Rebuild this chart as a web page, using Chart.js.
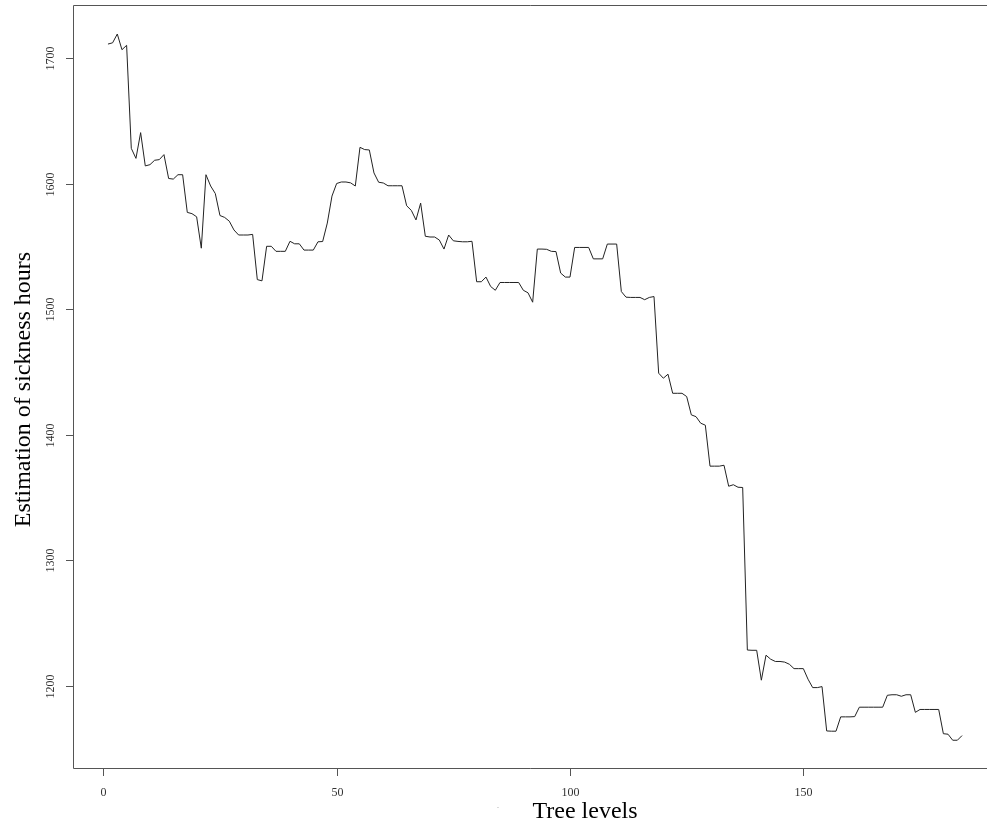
<!DOCTYPE html>
<html>
<head>
<meta charset="utf-8">
<script src="https://cdn.jsdelivr.net/npm/chart.js@4/dist/chart.umd.min.js"></script>
<style>
  html, body { margin: 0; padding: 0; background: #fff; }
  #wrap { width: 987px; height: 829px; }
</style>
</head>
<body>
<div id="wrap"><canvas id="chart" width="987" height="829"></canvas></div>
<script>
// tree level index (x) and estimated sickness hours (y)
const treeLevels = [
  1, 2, 3, 4, 5, 6, 7, 8, 9, 10, 11, 12, 13, 14, 15, 16, 17, 18, 19, 20,
  21, 22, 23, 24, 25, 26, 27, 28, 29, 30, 31, 32, 33, 34, 35, 36, 37, 38, 39, 40,
  41, 42, 43, 44, 45, 46, 47, 48, 49, 50, 51, 52, 53, 54, 55, 56, 57, 58, 59, 60,
  61, 62, 63, 64, 65, 66, 67, 68, 69, 70, 71, 72, 73, 74, 75, 76, 77, 78, 79, 80,
  81, 82, 83, 84, 85, 86, 87, 88, 89, 90, 91, 92, 93, 94, 95, 96, 97, 98, 99, 100,
  101, 102, 103, 104, 105, 106, 107, 108, 109, 110, 111, 112, 113, 114, 115, 116, 117, 118, 119, 120,
  121, 122, 123, 124, 125, 126, 127, 128, 129, 130, 131, 132, 133, 134, 135, 136, 137, 138, 139, 140,
  141, 142, 143, 144, 145, 146, 147, 148, 149, 150, 151, 152, 153, 154, 155, 156, 157, 158, 159, 160,
  161, 162, 163, 164, 165, 166, 167, 168, 169, 170, 171, 172, 173, 174, 175, 176, 177, 178, 179, 180,
  181, 182, 183, 184
];
const sicknessHours = [
  1711, 1712, 1719, 1706.5, 1710, 1628, 1620, 1640.5, 1614, 1615,
  1618.5, 1619, 1623, 1604, 1603.5, 1607, 1607, 1577, 1576, 1573.5,
  1548.5, 1607, 1598, 1592, 1574.5, 1573, 1570, 1563, 1559, 1559,
  1559, 1559.5, 1523.5, 1522.5, 1550, 1550, 1546, 1546, 1546, 1554,
  1552, 1552, 1547, 1547, 1547, 1553.6, 1553.8, 1568.5, 1590, 1600,
  1601.2, 1601.2, 1600.5, 1598, 1628.8, 1627, 1626.7, 1608.4, 1601, 1600.4,
  1598.2, 1598.2, 1598.2, 1598.2, 1582.3, 1578.6, 1571, 1584.4, 1558, 1557.4,
  1557.4, 1555, 1547.8, 1559, 1554.4, 1553.9, 1553.6, 1553.6, 1554, 1521.8,
  1521.8, 1525.5, 1518, 1515, 1521.2, 1521.2, 1521.2, 1521.2, 1521.2, 1515,
  1513, 1505.5, 1547.8, 1547.8, 1547.6, 1546, 1545.8, 1528.7, 1525.5, 1525.5,
  1549.1, 1549.1, 1549.1, 1549.1, 1540, 1540, 1540, 1551.8, 1551.8, 1551.8,
  1514, 1509.5, 1509.3, 1509.3, 1509.3, 1507.5, 1509.3, 1510, 1449, 1445,
  1448.2, 1433, 1433, 1433, 1430.4, 1415.8, 1414.4, 1409.2, 1407.6, 1375,
  1375, 1375, 1375.7, 1359, 1360.2, 1358.2, 1358, 1228.6, 1228.4, 1228.4,
  1204.6, 1224.5, 1221.3, 1219.5, 1219.5, 1219, 1217.3, 1213.8, 1213.8, 1213.8,
  1205.4, 1198.7, 1198.7, 1199.5, 1164.2, 1164, 1164, 1175.4, 1175.4, 1175.4,
  1175.6, 1183.1, 1183.1, 1183.1, 1183.1, 1183.1, 1183.1, 1192.6, 1193, 1193,
  1191.8, 1193, 1193, 1179, 1181.3, 1181.3, 1181.3, 1181.3, 1181.3, 1162,
  1161.6, 1156.8, 1156.8, 1160.5
];
const xTicks = [0, 50, 100, 150];
const yTicks = [1200, 1300, 1400, 1500, 1600, 1700];

const xTitle = 'Tree levels';
const yTitle = 'Estimation of sickness hours';

// R-style frame, ticks and labels drawn from the chart's own scales
const rAxes = {
  id: 'rAxes',
  afterDraw(chart) {
    const { ctx, chartArea: a, scales: { x, y } } = chart;
    ctx.save();
    ctx.strokeStyle = '#555';
    ctx.lineWidth = 1;
    ctx.beginPath();
    ctx.moveTo(a.right, a.top + 0.5);
    ctx.lineTo(a.left + 0.5, a.top + 0.5);
    ctx.lineTo(a.left + 0.5, a.bottom + 0.5);
    ctx.lineTo(a.right, a.bottom + 0.5);
    ctx.stroke();

    ctx.fillStyle = '#333';
    ctx.font = '12px "Liberation Serif", "DejaVu Serif", serif';
    ctx.textAlign = 'center';
    ctx.textBaseline = 'middle';
    xTicks.forEach(v => {
      const px = Math.round(x.getPixelForValue(v)) + 0.5;
      ctx.beginPath();
      ctx.moveTo(px, a.bottom);
      ctx.lineTo(px, a.bottom + 8);
      ctx.stroke();
      ctx.fillText(String(v), px, 793);
    });
    yTicks.forEach(v => {
      const py = Math.round(y.getPixelForValue(v)) + 0.5;
      ctx.beginPath();
      ctx.moveTo(a.left - 7, py);
      ctx.lineTo(a.left, py);
      ctx.stroke();
      ctx.save();
      ctx.translate(51, py);
      ctx.rotate(-Math.PI / 2);
      ctx.fillText(String(v), 0, 0);
      ctx.restore();
    });

    // stray mark left of the x title in the original
    ctx.fillStyle = '#888';
    ctx.font = '8px "Liberation Serif", serif';
    ctx.fillText('.', 498, 806);

    ctx.fillStyle = '#000';
    ctx.font = '24px "Liberation Serif", "DejaVu Serif", serif';
    ctx.textBaseline = 'alphabetic';
    ctx.fillText(xTitle, 585, 818);
    ctx.save();
    ctx.translate(30, (a.top + a.bottom) / 2 + 3);
    ctx.rotate(-Math.PI / 2);
    ctx.fillText(yTitle, 0, 0);
    ctx.restore();
    ctx.restore();
  }
};

new Chart(document.getElementById('chart'), {
  type: 'line',
  data: {
    datasets: [{
      data: treeLevels.map((lv, i) => ({ x: lv, y: sicknessHours[i] })),
      borderColor: '#222',
      borderWidth: 1,
      pointRadius: 0,
      tension: 0,
      fill: false,
    }],
  },
  options: {
    responsive: false,
    animation: false,
    layout: { padding: { left: 73, top: 5, right: 0, bottom: 61 } },
    plugins: { legend: { display: false }, tooltip: { enabled: false } },
    scales: {
      x: { type: 'linear', min: -6.49, max: 189.35, display: false },
      y: { type: 'linear', min: 1134.7, max: 1742.1, display: false },
    },
  },
  plugins: [rAxes],
});
</script>
</body>
</html>
